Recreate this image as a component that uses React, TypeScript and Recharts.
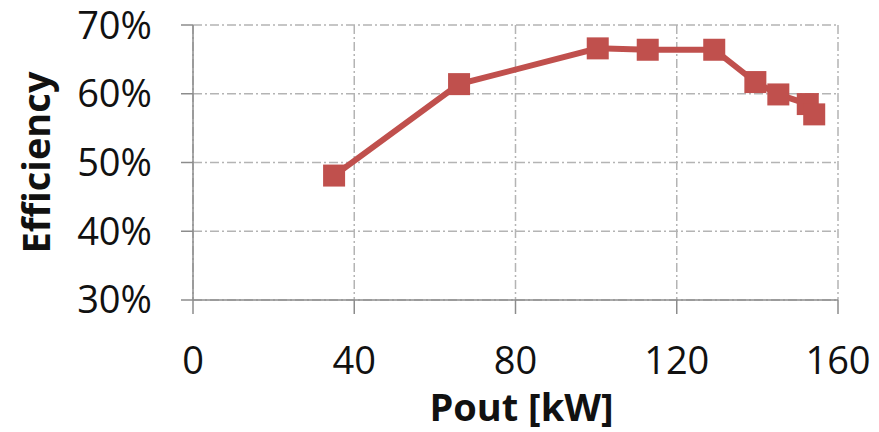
import { CartesianGrid, Label, Line, LineChart, XAxis, YAxis } from "recharts";

const poutKw = [35, 66, 100.4, 112.8, 129.3, 139.5, 145.2, 152.5, 154.1];
const efficiencyPct = [48.1, 61.4, 66.6, 66.4, 66.4, 61.7, 59.9, 58.5, 57.0];
const xTicks = [0, 40, 80, 120, 160];
const yTicks = [30, 40, 50, 60, 70];

const data = poutKw.map((p, i) => ({ pout: p, eff: efficiencyPct[i] }));

const FONT = "'Open Sans', sans-serif";
const AXIS = "#8c8c8c";
const GRID = "#b4b4b4";
const RED = "#C0504D";

function SquareDot(props: any) {
  const { cx, cy } = props;
  if (cx == null || cy == null) return null;
  return <rect x={cx - 11} y={cy - 11} width={22} height={22} fill={RED} />;
}

export default function App() {
  return (
    <div style={{ position: "absolute", left: 0, top: 0, width: 879, height: 432, background: "#fff" }}>
      <LineChart
        width={879}
        height={432}
        data={data}
        margin={{ top: 25, right: 41, bottom: 0, left: 0 }}
      >
        <CartesianGrid stroke={GRID} strokeWidth={1.5} strokeDasharray="9 3 2 3" />
        <XAxis
          dataKey="pout"
          type="number"
          domain={[0, 160]}
          ticks={xTicks}
          height={132}
          stroke={AXIS}
          strokeWidth={1.5}
          tickSize={14}
          tickMargin={33}
          tick={{ fill: "#111", fontSize: 38, fontFamily: FONT }}
        >
          <Label
            value="Pout [kW]"
            position="insideBottom"
            offset={11}
            dx={6}
            style={{ fill: "#111", fontSize: 38, fontWeight: 700, fontFamily: FONT }}
          />
        </XAxis>
        <YAxis
          type="number"
          domain={[30, 70]}
          ticks={yTicks}
          width={193}
          stroke={AXIS}
          strokeWidth={1.5}
          tickSize={12}
          tickMargin={29}
          tickFormatter={(v: number) => `${v}%`}
          tick={{ fill: "#111", fontSize: 38, fontFamily: FONT }}
        >
          <Label
            content={(p: any) => {
              const vb = p.viewBox || {};
              const cx = 50;
              const cy = (vb.y ?? 0) + (vb.height ?? 0) / 2;
              return (
                <text
                  x={cx}
                  y={cy}
                  transform={`rotate(-90, ${cx}, ${cy})`}
                  textAnchor="middle"
                  fill="#111"
                  fontSize={38}
                  fontWeight={700}
                  fontFamily={FONT}
                >
                  Efficiency
                </text>
              );
            }}
          />
        </YAxis>
        <Line
          type="linear"
          dataKey="eff"
          stroke={RED}
          strokeWidth={6}
          dot={<SquareDot />}
          activeDot={false}
          isAnimationActive={false}
        />
      </LineChart>
    </div>
  );
}
